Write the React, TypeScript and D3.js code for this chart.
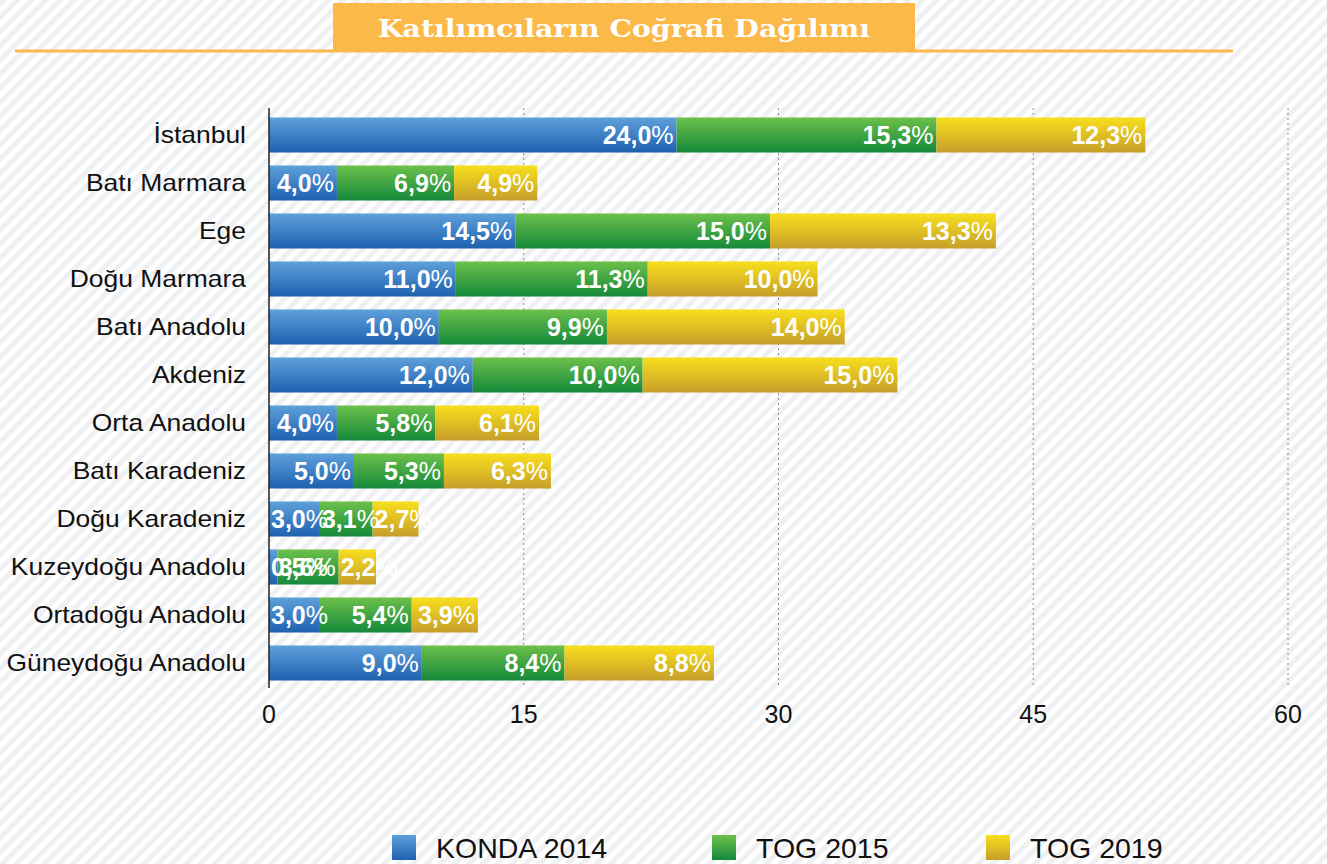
import * as d3 from "d3";

const regions = [
  "İstanbul",
  "Batı Marmara",
  "Ege",
  "Doğu Marmara",
  "Batı Anadolu",
  "Akdeniz",
  "Orta Anadolu",
  "Batı Karadeniz",
  "Doğu Karadeniz",
  "Kuzeydoğu Anadolu",
  "Ortadoğu Anadolu",
  "Güneydoğu Anadolu",
];
const seriesNames = ["KONDA 2014", "TOG 2015", "TOG 2019"];
const konda2014 = [24.0, 4.0, 14.5, 11.0, 10.0, 12.0, 4.0, 5.0, 3.0, 0.5, 3.0, 9.0];
const tog2015 = [15.3, 6.9, 15.0, 11.3, 9.9, 10.0, 5.8, 5.3, 3.1, 3.6, 5.4, 8.4];
const tog2019 = [12.3, 4.9, 13.3, 10.0, 14.0, 15.0, 6.1, 6.3, 2.7, 2.2, 3.9, 8.8];
const xTicks = [0, 15, 30, 45, 60];
const title = "Katılımcıların Coğrafi Dağılımı";

const gradients = [
  ["#5ea0da", "#1f61b0"],
  ["#6cc04a", "#15893c"],
  ["#f8df1c", "#c69f2b"],
];

const W = 1327;
const H = 864;
const margin = { top: 111, right: 39, bottom: 177, left: 269 };
const font = "'Liberation Sans', Arial, sans-serif";

export default function App() {
  const x = d3.scaleLinear().domain([0, 60]).range([margin.left, W - margin.right]);
  const y = d3
    .scaleBand<string>()
    .domain(regions)
    .range([margin.top, H - margin.bottom])
    .paddingInner(0.27)
    .paddingOuter(0.135);

  const rows = regions.map((r, i) => ({ r, vals: [konda2014[i], tog2015[i], tog2019[i]] }));
  const stack = d3.stack<any>().keys(["0", "1", "2"]).value((d, k) => d.vals[+k]);
  const layers = stack(rows);

  // yaklaşık etiket genişliği (25px Arial: kalın rakamlar + normal %)
  const labelWidth = (v: number) => (v.toFixed(1).length - 1) * 13.9 + 7 + 22.2;

  return (
    <svg width={W} height={H} style={{ display: "block", position: "absolute", left: 0, top: 0 }}>
      <defs>
        <pattern id="stripes" width="10" height="10" patternUnits="userSpaceOnUse" patternTransform="rotate(-45)">
          <rect width="10" height="10" fill="#ffffff" />
          <rect width="10" height="5" fill="#eff0f2" />
        </pattern>
        {gradients.map((g, i) => (
          <linearGradient key={i} id={`g${i}`} x1="0" y1="0" x2="0" y2="1">
            <stop offset="0" stopColor={g[0]} />
            <stop offset="1" stopColor={g[1]} />
          </linearGradient>
        ))}
      </defs>
      <rect width={W} height={H} fill="url(#stripes)" />

      {/* başlık */}
      <line x1={15} x2={1233} y1={51} y2={51} stroke="#fbb94a" strokeWidth={3} />
      <rect x={333} y={3} width={582} height={47} fill="#fbb94a" />
      <text
        x={624}
        y={37}
        textAnchor="middle"
        fill="#fff"
        fontFamily="'DejaVu Serif', serif"
        fontWeight="bold"
        fontSize={25}
        textLength={492}
        lengthAdjust="spacingAndGlyphs"
      >
        {title}
      </text>

      {/* grid */}
      {xTicks.slice(1).map((t) => (
        <line key={t} x1={x(t)} x2={x(t)} y1={108} y2={688} stroke="#8a8a8a" strokeDasharray="2,3" />
      ))}

      {/* bars */}
      {layers.map((layer, li) =>
        layer.map((d, i) => (
          <rect
            key={`${li}-${i}`}
            x={x(d[0])}
            y={y(regions[i])}
            width={x(d[1]) - x(d[0])}
            height={y.bandwidth()}
            fill={`url(#g${li})`}
          />
        ))
      )}

      {/* labels */}
      {layers.map((layer, li) =>
        layer.map((d, i) => {
          const v = rows[i].vals[li];
          const x0 = x(d[0]);
          const x1 = x(d[1]);
          const wide = labelWidth(v) > x1 - x0 - 2;
          return (
            <text
              key={`l${li}-${i}`}
              x={wide ? x0 + 2 : x1 - 3}
              y={(y(regions[i]) as number) + y.bandwidth() / 2 + 9}
              textAnchor={wide ? "start" : "end"}
              fill="#fff"
              fontFamily={font}
              fontSize={25}
            >
              <tspan fontWeight="bold">{v.toFixed(1).replace(".", ",")}</tspan>
              <tspan>%</tspan>
            </text>
          );
        })
      )}

      {/* axes */}
      <line x1={x(0)} x2={x(0)} y1={108} y2={688} stroke="#222" strokeWidth={1.5} />
      {regions.map((r) => (
        <text
          key={r}
          transform={`translate(246,${(y(r) as number) + y.bandwidth() / 2 + 8}) scale(1.15,1)`}
          textAnchor="end"
          fill="#111"
          fontFamily={font}
          fontSize={23}
        >
          {r}
        </text>
      ))}
      {xTicks.map((t) => (
        <text key={t} x={x(t)} y={723} textAnchor="middle" fill="#111" fontFamily={font} fontSize={25}>
          {t}
        </text>
      ))}

      {/* legend */}
      {seriesNames.map((s, i) => {
        const lx = [392, 712, 986][i];
        return (
          <g key={s}>
            <rect x={lx} y={835} width={24} height={25} fill={`url(#g${i})`} />
            <text x={lx + 44} y={858} fill="#111" fontFamily={font} fontSize={28.5}>
              {s}
            </text>
          </g>
        );
      })}
    </svg>
  );
}
